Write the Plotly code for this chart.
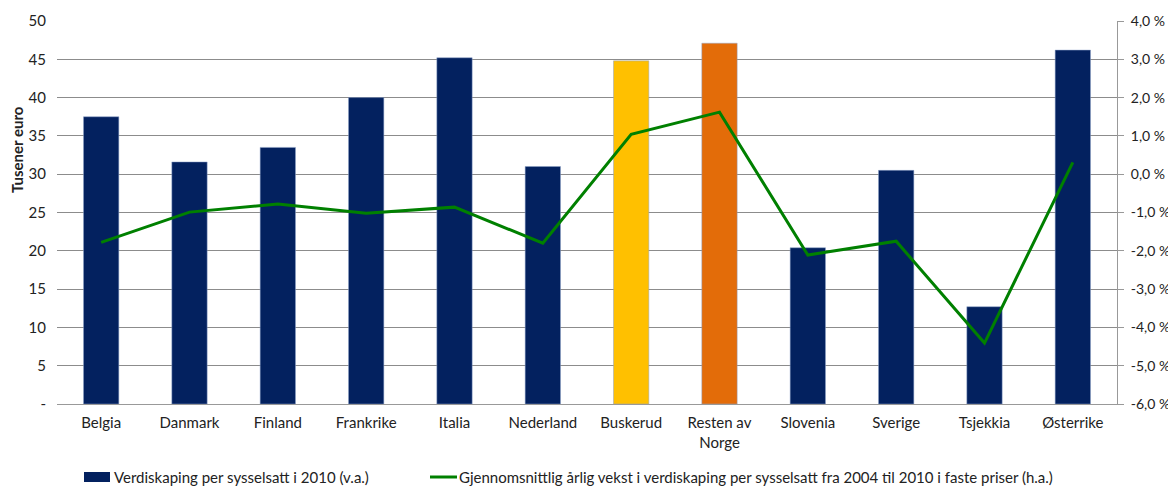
import plotly.graph_objects as go

categories = ["Belgia", "Danmark", "Finland", "Frankrike", "Italia", "Nederland",
              "Buskerud", "Resten av<br>Norge", "Slovenia", "Sverige", "Tsjekkia", "Østerrike"]
verdiskaping = [37.5, 31.6, 33.5, 40.0, 45.2, 31.0, 44.8, 47.1, 20.4, 30.5, 12.7, 46.2]
vekst = [-1.78, -0.99, -0.78, -1.02, -0.86, -1.80, 1.04, 1.62, -2.11, -1.75, -4.41, 0.31]

left_ticks = [0, 5, 10, 15, 20, 25, 30, 35, 40, 45, 50]
left_labels = ["-"] + [str(v) for v in left_ticks[1:]]
right_ticks = [-6, -5, -4, -3, -2, -1, 0, 1, 2, 3, 4]
right_labels = [f"{v:.1f} %".replace(".", ",") for v in right_ticks]

bar_name = "Verdiskaping per sysselsatt i 2010 (v.a.)"
line_name = "Gjennomsnittlig årlig vekst i verdiskaping per sysselsatt fra 2004 til 2010 i faste priser (h.a.)"

NAVY = "#03215F"
GREEN = "#008000"
bar_colors = [NAVY] * len(categories)
bar_colors[6] = "#FFC000"
bar_colors[7] = "#E36C09"

FONT = "Lato, Open Sans, sans-serif"

fig = go.Figure()
fig.add_trace(go.Bar(
    x=categories, y=verdiskaping, name=bar_name,
    marker=dict(color=bar_colors, line=dict(color="#8FA3C8", width=0.5)),
    width=0.4, yaxis="y", showlegend=False))
fig.add_trace(go.Scatter(
    x=categories, y=vekst, mode="lines", name=line_name,
    line=dict(color=GREEN, width=3), yaxis="y2", showlegend=False))

W, H = 1168, 478
L, R, T, B = 49, 59, 13, 82
PW, PH = W - L - R, H - T - B

def px(x):
    return (x - L) / PW

def py(y):
    return (H - B - y) / PH

fig.update_layout(
    width=W, height=H,
    margin=dict(l=L, r=R, t=T, b=B, autoexpand=False),
    paper_bgcolor="white", plot_bgcolor="white",
    font=dict(family=FONT, size=15, color="#222"),
    bargap=0.6,
    xaxis=dict(showgrid=False, showline=True, linecolor="#999", linewidth=1,
               ticks="", tickfont=dict(size=15), automargin=False,
               ticklabelstandoff=5),
    yaxis=dict(range=[0, 50], tickvals=left_ticks, ticktext=left_labels,
               showgrid=True, gridcolor="#8c8c8c", gridwidth=1, zeroline=False,
               showline=False, ticks="", tickfont=dict(size=15), automargin=False,
               ticklabelstandoff=10),
    yaxis2=dict(range=[-6, 4], tickvals=right_ticks, ticktext=right_labels,
                overlaying="y", side="right", showgrid=False, zeroline=False,
                showline=True, linecolor="#999", linewidth=1,
                ticks="outside", ticklen=6, tickcolor="#999",
                tickfont=dict(size=14), automargin=False, ticklabelstandoff=4),
    showlegend=False,
)

# custom legend (matches reference's wide swatch style)
ly = 469
fig.add_shape(type="rect", xref="paper", yref="paper",
              x0=px(76), x1=px(102), y0=py(ly + 5), y1=py(ly - 5),
              fillcolor=NAVY, line=dict(width=0))
fig.add_annotation(text=bar_name, xref="paper", yref="paper",
                   x=px(104), y=py(ly), xanchor="left", yanchor="middle",
                   showarrow=False, font=dict(size=15, color="#222"))
fig.add_shape(type="line", xref="paper", yref="paper",
              x0=px(422), x1=px(449), y0=py(ly), y1=py(ly),
              line=dict(color=GREEN, width=3))
fig.add_annotation(text=line_name, xref="paper", yref="paper",
                   x=px(449), y=py(ly), xanchor="left", yanchor="middle",
                   showarrow=False, font=dict(size=15, color="#222"))

fig.add_annotation(text="<b>Tusener euro</b>", xref="paper", yref="paper",
                   x=-0.0377, y=0.663, textangle=-90, showarrow=False,
                   font=dict(size=15, color="#222"), xanchor="center", yanchor="middle")

fig.write_html("out.html")
